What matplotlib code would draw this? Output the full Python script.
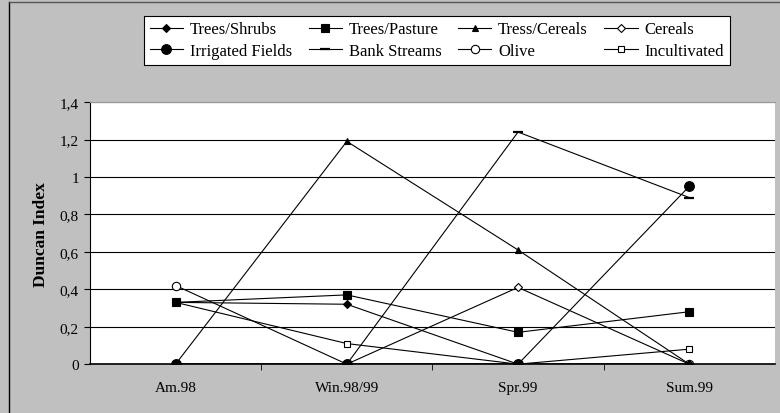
import matplotlib.pyplot as plt
from matplotlib.lines import Line2D

plt.rcParams['font.family'] = ['Liberation Serif', 'DejaVu Serif']

seasons = ['Am.98', 'Win.98/99', 'Spr.99', 'Sum.99']

trees_shrubs = [0.33, 0.32, 0.0, 0.0]
trees_pasture = [0.33, 0.37, 0.17, 0.28]
tress_cereals = [0.0, 1.19, 0.61, 0.0]
cereals = [0.0, 0.0, 0.41, 0.0]
irrigated = [0.0, 0.0, 0.0, 0.95]
bank_streams = [0.0, 0.0, 1.24, 0.89]
olive = [0.42, 0.0, 0.0, 0.0]
incultivated = [0.33, 0.11, 0.0, 0.08]

yticks = [0, 0.2, 0.4, 0.6, 0.8, 1, 1.2, 1.4]
ytick_labels = ['0', '0,2', '0,4', '0,6', '0,8', '1', '1,2', '1,4']

grey = '#c0c0c0'

fig = plt.figure(figsize=(7.8, 4.14), dpi=100)
fig.patch.set_facecolor(grey)
ax = fig.add_axes([0.1154, 0.118, 0.878, 0.633])
ax.set_facecolor('white')

x = list(range(len(seasons)))
# (label, values, marker, filled, size)
series = [
    ('Trees/Shrubs', trees_shrubs, 'D', True, 4),
    ('Trees/Pasture', trees_pasture, 's', True, 6),
    ('Tress/Cereals', tress_cereals, '^', True, 5),
    ('Cereals', cereals, 'D', False, 4),
    ('Irrigated Fields', irrigated, 'o', True, 7),
    ('Bank Streams', bank_streams, '_', True, 7),
    ('Olive', olive, 'o', False, 6),
    ('Incultivated', incultivated, 's', False, 5),
]

handles = []
for name, vals, mk, filled, ms in series:
    fc = 'black' if filled else 'white'
    mew = 1.6 if mk == '_' else 0.8
    # open markers go underneath, like in the original
    z = 4 if filled else 3
    ax.plot(x, vals, color='black', lw=0.8, marker=mk, ms=ms,
            mfc=fc, mec='black', mew=mew, zorder=z)
    handles.append(Line2D([], [], color='black', lw=0.8, marker=mk, ms=ms,
                          mfc=fc, mec='black', mew=mew, label=name))

ax.set_xlim(-0.5, 3.5)
ax.set_ylim(0, 1.4)
ax.set_yticks(yticks)
ax.set_yticklabels(ytick_labels, fontsize=11)
ax.set_xticks(x)
ax.set_xticklabels(seasons, fontsize=11)
ax.tick_params(axis='x', length=0, pad=12)
ax.set_xticks([0.5, 1.5, 2.5], minor=True)
ax.tick_params(axis='x', which='minor', length=4, direction='out')
ax.tick_params(axis='y', length=4, direction='out', pad=4)
ax.yaxis.grid(True, color='black', lw=0.8)
ax.set_axisbelow(True)
ax.spines['top'].set_color('#999999')
ax.spines['right'].set_visible(False)
ax.spines['left'].set_linewidth(0.8)
ax.spines['bottom'].set_linewidth(1.2)
ax.set_ylabel('Duncan Index', fontsize=12.5, fontweight='bold', labelpad=8)

# legend is row-wise in the original, matplotlib fills columns
order = [0, 4, 1, 5, 2, 6, 3, 7]
leg = fig.legend([handles[i] for i in order], [handles[i].get_label() for i in order],
                 ncol=4, loc='center', bbox_to_anchor=(0.56, 0.9),
                 fontsize=12, frameon=True, fancybox=False,
                 edgecolor='black', framealpha=1, handlelength=2.0,
                 handletextpad=0.4, columnspacing=1.0, labelspacing=0.35,
                 borderpad=0.35, borderaxespad=0)
leg.get_frame().set_linewidth(0.8)

# outer chart border
fig.add_artist(Line2D([0.011, 0.011], [0, 0.993], color='black', lw=1.0))
fig.add_artist(Line2D([0.011, 1.0], [0.993, 0.993], color='#555555', lw=1.0))

fig.savefig('out.png', dpi=100, facecolor=fig.get_facecolor())
